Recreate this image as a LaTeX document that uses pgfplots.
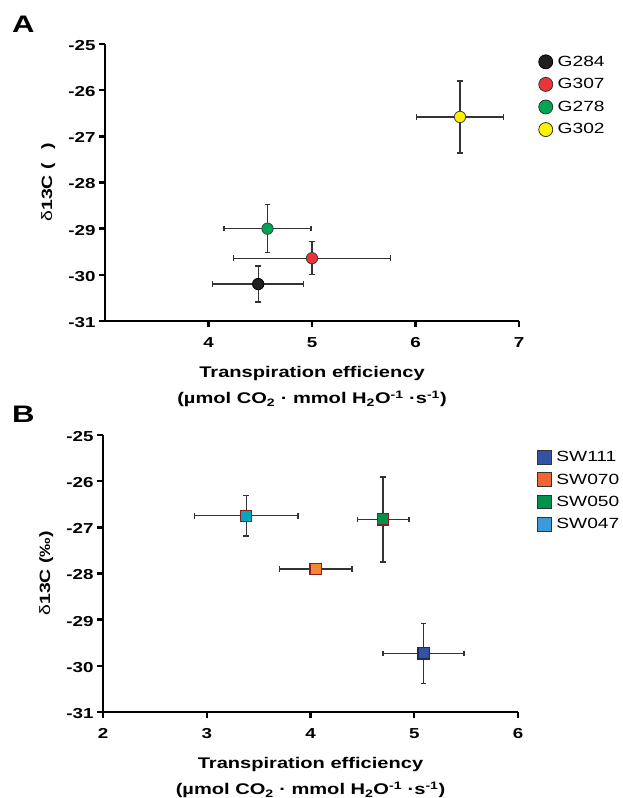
\documentclass[border=0pt]{standalone}
\usepackage{fontspec}
\setmainfont{Liberation Sans}[FakeStretch=1.3]
\usepackage{pgfplots}
\pgfplotsset{compat=1.18}

\definecolor{gBlack}{HTML}{231F20}
\definecolor{gRed}{HTML}{EE3338}
\definecolor{gGreen}{HTML}{00A651}
\definecolor{gYellow}{HTML}{FFF100}
\definecolor{sBlue}{HTML}{3452A4}
\definecolor{sOrange}{HTML}{F58634}
\definecolor{sGreen}{HTML}{00914C}
\definecolor{sCyan}{HTML}{00A8C4}
\definecolor{lOrange}{HTML}{F26431}
\definecolor{lBlue}{HTML}{3C9AD8}
\definecolor{edgeRed}{HTML}{8B1C1C}
\definecolor{edgeNavy}{HTML}{1F2A5A}
\definecolor{barGrey}{HTML}{333333}

\pgfplotsset{
  panel/.style={
    scale only axis, anchor=south west, clip=false,
    axis x line*=bottom, axis y line*=left,
    axis line style={-, line width=2.4bp},
    tick align=outside, major tick length=6bp,
    tick style={line width=2.4bp, black},
    /pgf/number format/assume math mode=true,
    ticklabel style={font=\bfseries\fontsize{14.5}{14.5}\selectfont},
    xticklabel style={yshift=-7bp},
    yticklabel style={yshift=-1.5bp},
    ymin=-31, ymax=-25, ytick={-31,-30,...,-25},
    xlabel style={font=\bfseries\fontsize{15.5}{26}\selectfont, align=center,
      at={(axis description cs:0.5,-0.163)}, anchor=north, inner sep=0pt},
    ylabel style={font=\fontsize{15}{15}\selectfont,
      at={(axis description cs:-0.137,0.5)}, anchor=center, inner sep=0pt},
    legend cell align=left,
    legend style={draw=none, fill=none, font=\fontsize{14.8}{14.8}\selectfont,
      anchor=north west, /tikz/every odd column/.append style={column sep=3bp}},
    legend image code/.code={\draw[#1] plot coordinates {(7bp,0bp)};},
  },
  eb/.style={forget plot, only marks, mark=none,
    error bars/.cd, x dir=both, x explicit, y dir=both, y explicit,
    error bar style={line width=1.3bp, barGrey},
    error mark options={rotate=90, line width=1.3bp, barGrey, mark size=2.8bp}},
  pt/.style={forget plot, only marks, mark=*, mark size=5.7bp, mark options={line width=0.8bp}},
  sq/.style={forget plot, only marks, mark=square*, mark size=5.6bp, mark options={line width=1.2bp}},
  lc/.style={only marks, mark=*, mark size=7bp, mark options={line width=0.8bp}},
  ls/.style={only marks, mark=square*, mark size=6.8bp, mark options={line width=1bp}},
}

\begin{document}
\begin{tikzpicture}
\useasboundingbox (0,0) rectangle (623bp,798bp);

\node[anchor=base west, inner sep=0pt, font=\bfseries\fontsize{24}{24}\selectfont] at (12bp,765bp) {A};
\node[anchor=base west, inner sep=0pt, font=\bfseries\fontsize{24}{24}\selectfont] at (12bp,375bp) {B};

% panel A
\begin{axis}[panel, at={(105bp,477bp)}, width=414bp, height=277bp,
  xmin=3, xmax=7, xtick={4,5,6,7},
  xlabel={Transpiration efficiency\\(µmol CO\textsubscript{2} · mmol H\textsubscript{2}O\textsuperscript{-1} ·s\textsuperscript{-1})},
  ylabel={δ\textbf{13C (\hspace{0.9em})}},
  legend style={at={(axis description cs:1.04,0.972)}, row sep=6.8bp}]
\addlegendimage{lc, draw=black, fill=gBlack}
\addlegendentry{G284}
\addlegendimage{lc, draw=black!80, fill=gRed}
\addlegendentry{G307}
\addlegendimage{lc, draw=black!80, fill=gGreen}
\addlegendentry{G278}
\addlegendimage{lc, draw=black!80, fill=gYellow}
\addlegendentry{G302}
% error bars first, markers on top
\addplot[eb] coordinates {
  (4.48,-30.20) +- (0.44,0.39)
  (5.00,-29.64) +- (0.76,0.36)
  (4.57,-29.00) +- (0.42,0.52)
  (6.43,-26.58) +- (0.42,0.78)
};
\addplot[pt, draw=black, fill=gBlack] coordinates {(4.48,-30.20)};
\addplot[pt, draw=black!75, fill=gRed] coordinates {(5.00,-29.64)};
\addplot[pt, draw=black!75, fill=gGreen] coordinates {(4.57,-29.00)};
\addplot[pt, draw=black!75, fill=gYellow] coordinates {(6.43,-26.58)};
\end{axis}

% panel B
\begin{axis}[panel, at={(103bp,86bp)}, width=415bp, height=277bp,
  xmin=2, xmax=6, xtick={2,3,4,5,6},
  xlabel={Transpiration efficiency\\(µmol CO\textsubscript{2} · mmol H\textsubscript{2}O\textsuperscript{-1} ·s\textsuperscript{-1})},
  ylabel={δ\textbf{13C (‰)}},
  legend style={at={(axis description cs:1.04,0.956)}, row sep=6.6bp}]
\addlegendimage{ls, draw=black!80, fill=sBlue}
\addlegendentry{SW111}
\addlegendimage{ls, draw=black!80, fill=lOrange}
\addlegendentry{SW070}
\addlegendimage{ls, draw=black!80, fill=sGreen}
\addlegendentry{SW050}
\addlegendimage{ls, draw=black!80, fill=lBlue}
\addlegendentry{SW047}
\addplot[eb] coordinates {
  (5.09,-29.73) +- (0.39,0.65)
  (4.05,-27.90) +- (0.35,0.0)
  (4.70,-26.83) +- (0.25,0.92)
  (3.38,-26.75) +- (0.50,0.44)
};
\addplot[sq, draw=edgeNavy, fill=sBlue] coordinates {(5.09,-29.73)};
\addplot[sq, draw=edgeRed, fill=sOrange] coordinates {(4.05,-27.90)};
\addplot[sq, draw=edgeRed, fill=sGreen] coordinates {(4.70,-26.83)};
\addplot[sq, draw=edgeRed, fill=sCyan] coordinates {(3.38,-26.75)};
\end{axis}
\end{tikzpicture}
\end{document}
